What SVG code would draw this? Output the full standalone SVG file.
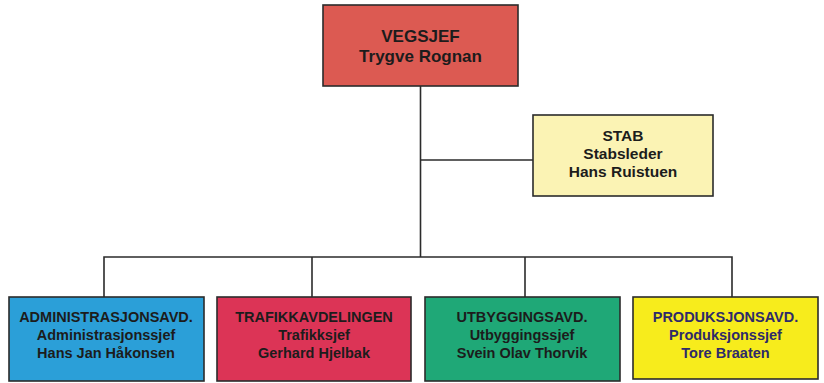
<svg xmlns="http://www.w3.org/2000/svg" width="824" height="383" viewBox="0 0 824 383">
<style>
.box{stroke:#2b2b2b;stroke-width:1.6}
.t{font-family:"Liberation Sans",Arial,sans-serif;font-weight:bold;text-anchor:middle;fill:#1c1c1c}
.c{fill:none;stroke:#2b2b2b;stroke-width:1.6}
</style>
<rect width="824" height="383" fill="#ffffff"/>
<g id="connectors">
<line class="c" x1="420.5" y1="86" x2="420.5" y2="257"/>
<line class="c" x1="420.5" y1="160" x2="533" y2="160"/>
<polyline class="c" points="104,297 104,257 732,257 732,297"/>
<line class="c" x1="312" y1="257" x2="312" y2="297"/>
<line class="c" x1="525" y1="257" x2="525" y2="297"/>
</g>
<g id="vegsjef">
<rect class="box" x="323" y="5" width="195" height="81" fill="#dc5a52"/>
<text class="t" x="420.5" y="42" font-size="17">VEGSJEF</text>
<text class="t" x="420.5" y="62" font-size="17">Trygve Rognan</text>
</g>
<g id="stab">
<rect class="box" x="533" y="115" width="180" height="81" fill="#fbf3b4"/>
<text class="t" x="623" y="141" font-size="15.5">STAB</text>
<text class="t" x="623" y="159" font-size="15.5">Stabsleder</text>
<text class="t" x="623" y="177" font-size="15.5">Hans Ruistuen</text>
</g>
<g id="administrasjon">
<rect class="box" x="9" y="297" width="195" height="84" fill="#2b9fd8"/>
<text class="t" x="106" y="322" font-size="14.5">ADMINISTRASJONSAVD.</text>
<text class="t" x="106" y="340" font-size="14.5">Administrasjonssjef</text>
<text class="t" x="106" y="358" font-size="14.5">Hans Jan Håkonsen</text>
</g>
<g id="trafikk">
<rect class="box" x="217" y="297" width="194" height="84" fill="#dc3456"/>
<text class="t" x="314" y="322" font-size="14.5">TRAFIKKAVDELINGEN</text>
<text class="t" x="314" y="340" font-size="14.5">Trafikksjef</text>
<text class="t" x="314" y="358" font-size="14.5">Gerhard Hjelbak</text>
</g>
<g id="utbygging">
<rect class="box" x="425" y="297" width="195" height="84" fill="#1fa877"/>
<text class="t" x="522" y="322" font-size="14.5">UTBYGGINGSAVD.</text>
<text class="t" x="522" y="340" font-size="14.5">Utbyggingssjef</text>
<text class="t" x="522" y="358" font-size="14.5">Svein Olav Thorvik</text>
</g>
<g id="produksjon">
<rect class="box" x="633" y="297" width="185" height="82" fill="#f7ec1c"/>
<text class="t" x="725.5" y="322" font-size="14.5" style="fill:#2e2a6a">PRODUKSJONSAVD.</text>
<text class="t" x="725.5" y="340" font-size="14.5" style="fill:#2e2a6a">Produksjonssjef</text>
<text class="t" x="725.5" y="358" font-size="14.5" style="fill:#2e2a6a">Tore Braaten</text>
</g>
</svg>
